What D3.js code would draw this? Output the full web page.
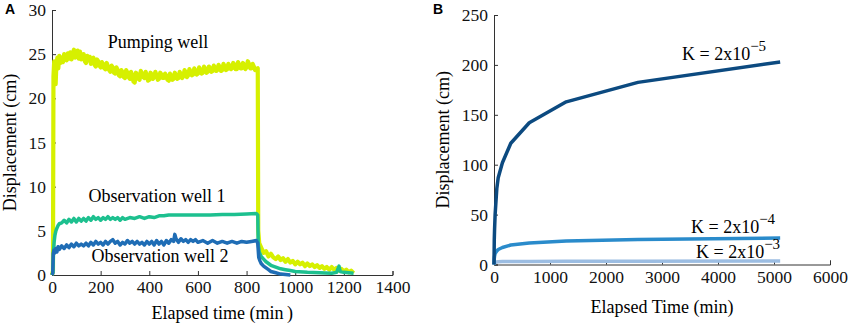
<!DOCTYPE html>
<html>
<head>
<meta charset="utf-8">
<script src="https://cdn.jsdelivr.net/npm/d3@7"></script>
<style>
  body { margin: 0; background: #fff; }
  .axis path, .axis line { stroke: #333; stroke-width: 1; }
</style>
</head>
<body>
<div id="chart"></div>
<script>
// ---- panel A data (time in min, displacement in cm) ----
const pumpTime = [0, 4, 6, 9, 12, 15, 18, 22, 26, 30, 35, 40, 45, 50, 55, 60, 65, 70, 75, 80, 85, 90, 95, 100, 105, 110, 115, 120, 125, 130, 135, 140,
  145, 150, 155, 160, 165, 170, 175, 180, 185, 190, 195, 200, 205, 210, 215, 220, 225, 230, 235, 240, 245, 250, 255, 260, 265, 270, 275, 280,
  285, 290, 295, 300, 305, 310, 315, 320, 325, 330, 335, 340, 345, 350, 355, 360, 365, 370, 375, 380, 385, 390, 395, 400, 405, 410, 415, 420,
  425, 430, 435, 440, 445, 450, 455, 460, 465, 470, 475, 480, 485, 490, 495, 500, 505, 510, 515, 520, 525, 530, 535, 540, 545, 550, 555, 560,
  565, 570, 575, 580, 585, 590, 595, 600, 605, 610, 615, 620, 625, 630, 635, 640, 645, 650, 655, 660, 665, 670, 675, 680, 685, 690, 695, 700,
  705, 710, 715, 720, 725, 730, 735, 740, 745, 750, 755, 760, 765, 770, 775, 780, 785, 790, 795, 800, 805, 810, 815, 820, 825, 830, 835, 840,
  846, 848, 852, 860, 870, 880, 890, 900, 910, 920, 930, 940, 950, 960, 970, 980, 990, 1000, 1010, 1020, 1030, 1040, 1050, 1060, 1070, 1080,
  1090, 1100, 1110, 1120, 1130, 1140, 1150, 1160, 1170, 1180, 1190, 1200, 1210, 1220, 1230, 1240];
const pumpWell = [0, 0.5, 22.5, 24.2, 23.0, 21.6, 23.8, 24.6, 23.4, 24.8, 24.0, 24.6, 24.1, 25.0, 24.4, 24.3, 25.1, 24.5, 25.2, 24.4, 25.0, 25.5, 24.6, 24.9, 25.4, 24.5, 25.3, 24.4, 24.7, 25.0, 24.2, 24.0,
  24.8, 24.3, 24.7, 23.9, 24.5, 24.6, 23.8, 23.6, 24.4, 24.2, 23.7, 23.5, 24.1, 23.9, 23.4, 23.3, 24.0, 23.6, 23.2, 23.0, 23.7, 23.5, 22.9, 22.8, 23.5, 23.2, 22.6, 22.5,
  23.2, 23.0, 22.4, 22.3, 23.2, 22.9, 22.4, 22.2, 23.0, 22.6, 21.9, 21.8, 22.9, 22.7, 22.2, 22.1, 23.1, 22.8, 22.4, 22.3, 23.0, 22.5, 22.0, 22.1, 22.9, 22.7, 22.2, 22.4,
  23.0, 22.6, 22.1, 22.2, 22.9, 22.7, 22.3, 22.3, 22.8, 22.5, 22.1, 22.0, 22.8, 22.6, 22.1, 22.2, 22.9, 22.5, 22.2, 22.3, 23.0, 22.7, 22.3, 22.5, 23.2, 22.9, 22.4, 22.6,
  23.3, 23.0, 22.6, 22.7, 23.4, 23.1, 22.7, 22.8, 23.5, 23.2, 22.8, 22.9, 23.6, 23.3, 22.9, 23.0, 23.6, 23.4, 23.0, 23.1, 23.7, 23.5, 23.1, 23.2, 23.8, 23.5, 23.1, 23.2,
  23.9, 23.6, 23.2, 23.3, 23.9, 23.7, 23.3, 23.4, 24.0, 23.8, 23.3, 23.3, 24.1, 23.8, 23.4, 23.4, 24.0, 23.7, 23.3, 23.5, 24.2, 23.9, 23.4, 23.4, 23.9, 23.6, 23.2, 23.3,
  23.4, 5.0, 3.6, 3.1, 2.5, 2.7, 2.1, 2.4, 2.0, 1.8, 2.1, 1.7, 1.9, 1.5, 1.8, 1.4, 1.6, 1.2, 1.5, 1.2, 1.4, 1.0, 1.3, 1.0, 1.2, 0.9,
  1.1, 0.8, 1.0, 0.7, 0.9, 0.6, 0.9, 0.6, 0.8, 0.5, 0.7, 0.4, 0.6, 0.3, 0.5, 0.2];

const obs1Time = [0, 4, 6, 9, 12, 16, 20, 25, 30, 40, 50, 60, 70, 80, 90, 100, 110, 120, 130, 140, 150, 160, 170, 180, 190, 200,
  210, 220, 230, 240, 250, 260, 270, 280, 290, 300, 320, 340, 360, 380, 400, 420, 440, 460, 480, 500, 550, 600, 650, 700, 750,
  800, 840, 846, 848, 852, 860, 870, 880, 890, 900, 920, 940, 960, 980, 1000, 1050, 1100, 1150, 1170, 1180, 1185, 1200, 1240];
const obsWell1 = [0, 0.3, 2.6, 3.8, 4.5, 5.0, 5.3, 5.6, 5.8, 5.9, 6.2, 5.9, 6.3, 6.0, 6.4, 6.0, 6.4, 6.1, 6.4, 6.1, 6.5, 6.2, 6.6, 6.3, 6.5, 6.2,
  6.5, 6.3, 6.6, 6.3, 6.5, 6.3, 6.5, 6.2, 6.5, 6.3, 6.5, 6.4, 6.6, 6.4, 6.6, 6.5, 6.7, 6.7, 6.8, 6.8, 6.8, 6.8, 6.8, 6.85, 6.85,
  6.9, 6.95, 6.8, 3.5, 2.6, 2.1, 1.8, 1.5, 1.3, 1.1, 0.9, 0.7, 0.6, 0.5, 0.4, 0.3, 0.25, 0.2, 0.3, 1.0, 0.4, 0.3, 0.2];

const obs2Time = [0, 3, 5, 8, 12, 16, 20, 25, 30, 40, 50, 60, 70, 80, 90, 100, 110, 120, 130, 140, 150, 160, 170, 180, 190, 200,
  210, 220, 230, 240, 250, 260, 270, 280, 290, 300, 310, 320, 330, 340, 350, 360, 370, 380, 390, 400, 410, 420, 430, 440, 450,
  460, 470, 480, 490, 500, 505, 510, 520, 530, 540, 550, 560, 570, 580, 590, 600, 620, 640, 660, 680, 700, 720, 740, 760, 780,
  800, 820, 840, 846, 850, 855, 860, 870, 880, 890, 900, 920, 940, 960, 980];
const obsWell2 = [0, 0.2, 2.4, 2.8, 2.5, 3.0, 2.6, 3.2, 2.9, 3.3, 3.0, 3.4, 3.1, 3.5, 3.2, 3.6, 3.3, 3.5, 3.3, 3.6, 3.3, 3.7, 3.4, 3.8, 3.5, 3.7,
  3.4, 3.8, 3.5, 3.8, 4.0, 3.6, 3.8, 3.4, 3.7, 3.5, 3.9, 3.6, 3.8, 3.5, 3.8, 3.5, 3.7, 3.4, 3.8, 3.5, 3.8, 3.4, 3.9, 3.5, 3.8,
  3.4, 3.9, 3.6, 4.0, 3.8, 4.6, 4.1, 3.7, 4.1, 3.8, 4.0, 3.7, 4.0, 3.8, 4.0, 3.7, 3.9, 3.6, 3.9, 3.6, 3.8, 3.6, 3.8, 3.6, 3.8,
  3.7, 3.8, 3.9, 3.6, 2.0, 1.6, 1.3, 1.0, 0.8, 0.6, 0.4, 0.25, 0.1, 0.05, 0];

// ---- panel B data ----
const simTime = [0, 5, 10, 20, 50, 75, 150, 300, 630, 1290, 2570, 5110];
const k2e5 = [0, 25, 35, 50, 76, 87, 102, 121.5, 142, 163, 182.5, 203];
const k2e4 = [0, 6, 8.5, 11, 13.5, 15, 17, 19.5, 21.5, 23.5, 25, 26.5];
const k2e3 = [0, 1, 1.5, 2, 2.5, 2.7, 2.9, 3.0, 3.1, 3.2, 3.3, 3.4];

const ticksA_x = [0, 200, 400, 600, 800, 1000, 1200, 1400];
const ticksA_y = [0, 5, 10, 15, 20, 25, 30];
const ticksB_x = [0, 1000, 2000, 3000, 4000, 5000, 6000];
const ticksB_y = [0, 50, 100, 150, 200, 250];

const serif = "'Liberation Serif', 'Times New Roman', Times, serif";

const seriesA = [
  { name: "Pumping well", t: pumpTime, v: pumpWell, color: "#d6f000", width: 4.2 },
  { name: "Observation well 1", t: obs1Time, v: obsWell1, color: "#1dc08f", width: 3.5 },
  { name: "Observation well 2", t: obs2Time, v: obsWell2, color: "#1f6db5", width: 3.5 }
];
const seriesB = [
  { exp: "\u22125", t: simTime, v: k2e5, color: "#0c4a80" },
  { exp: "\u22124", t: simTime, v: k2e4, color: "#2a8bcb" },
  { exp: "\u22123", t: simTime, v: k2e3, color: "#9cbde2" }
];

const svg = d3.select("#chart").append("svg")
  .attr("width", 851)
  .attr("height", 326);

function drawAxes(x, y, xTicks, yTicks, xTitle, ytitleX, xTitleY) {
  const xAxis = svg.append("g")
    .attr("class", "axis")
    .attr("transform", "translate(0," + y.range()[0] + ")")
    .call(d3.axisBottom(x).tickValues(xTicks).tickSize(-4).tickPadding(6).tickFormat(d3.format("d")));
  const yAxis = svg.append("g")
    .attr("class", "axis")
    .attr("transform", "translate(" + x.range()[0] + ",0)")
    .call(d3.axisLeft(y).tickValues(yTicks).tickSize(-4).tickPadding(6).tickFormat(d3.format("d")));
  [xAxis, yAxis].forEach(a => a.selectAll("text")
    .attr("fill", "#111")
    .style("font-family", serif)
    .style("font-size", "17.5px"));
  const xm = (x.range()[0] + x.range()[1]) / 2;
  svg.append("text")
    .attr("x", xm).attr("y", xTitleY)
    .attr("text-anchor", "middle")
    .style("font-family", serif)
    .style("font-size", "18px")
    .text(xTitle);
  const ym = (y.range()[0] + y.range()[1]) / 2;
  svg.append("text")
    .attr("transform", "translate(" + ytitleX + "," + ym + ") rotate(-90)")
    .attr("text-anchor", "middle")
    .style("font-family", serif)
    .style("font-size", "18px")
    .text("Displacement (cm)");
}

// ---- panel A ----
const xA = d3.scaleLinear().domain([0, 1400]).range([52, 392.5]);
const yA = d3.scaleLinear().domain([0, 30]).range([275, 10]);
drawAxes(xA, yA, ticksA_x, ticksA_y, "Elapsed time (min\u2009)", 16, 319);

const lineA = d3.line().x(d => xA(d[0])).y(d => yA(d[1]));
seriesA.forEach(s => {
  svg.append("path")
    .datum(s.t.map((t, i) => [t, s.v[i]]))
    .attr("fill", "none")
    .attr("stroke", s.color)
    .attr("stroke-width", s.width)
    .attr("stroke-linejoin", "round")
    .attr("d", lineA);
});

const labelsA = [
  { text: "Pumping well", x: 158, y: 48 },
  { text: "Observation well 1", x: 157, y: 202 },
  { text: "Observation well 2", x: 160, y: 262 }
];
svg.selectAll(".lblA").data(labelsA).join("text")
  .attr("class", "lblA")
  .attr("x", d => d.x).attr("y", d => d.y)
  .attr("text-anchor", "middle")
  .style("font-family", serif)
  .style("font-size", "18px")
  .text(d => d.text);

// ---- panel B ----
const xB = d3.scaleLinear().domain([0, 6000]).range([494, 830]);
const yB = d3.scaleLinear().domain([0, 250]).range([264.5, 15]);
drawAxes(xB, yB, ticksB_x, ticksB_y, "Elapsed Time (min)", 449, 313);

const lineB = d3.line().x(d => xB(d[0])).y(d => yB(d[1]));
seriesB.slice().reverse().forEach(s => {
  svg.append("path")
    .datum(s.t.map((t, i) => [t, s.v[i]]))
    .attr("fill", "none")
    .attr("stroke", s.color)
    .attr("stroke-width", 3.5)
    .attr("stroke-linejoin", "round")
    .attr("d", lineB);
});

const labelsB = [
  { exp: "\u22125", x: 682, y: 60 },
  { exp: "\u22124", x: 691, y: 233 },
  { exp: "\u22123", x: 696, y: 258 }
];
const kl = svg.selectAll(".lblB").data(labelsB).join("text")
  .attr("class", "lblB")
  .attr("x", d => d.x).attr("y", d => d.y)
  .style("font-family", serif)
  .style("font-size", "18px");
kl.append("tspan").text("K = 2x10");
kl.append("tspan").attr("dy", -9).style("font-size", "15px").text(d => d.exp);

// panel letters
svg.append("text").attr("x", 5).attr("y", 14)
  .style("font-family", "'Liberation Sans', Arial, sans-serif").style("font-weight", "bold").style("font-size", "14px")
  .text("A");
svg.append("text").attr("x", 433).attr("y", 14)
  .style("font-family", "'Liberation Sans', Arial, sans-serif").style("font-weight", "bold").style("font-size", "14px")
  .text("B");
</script>
</body>
</html>
